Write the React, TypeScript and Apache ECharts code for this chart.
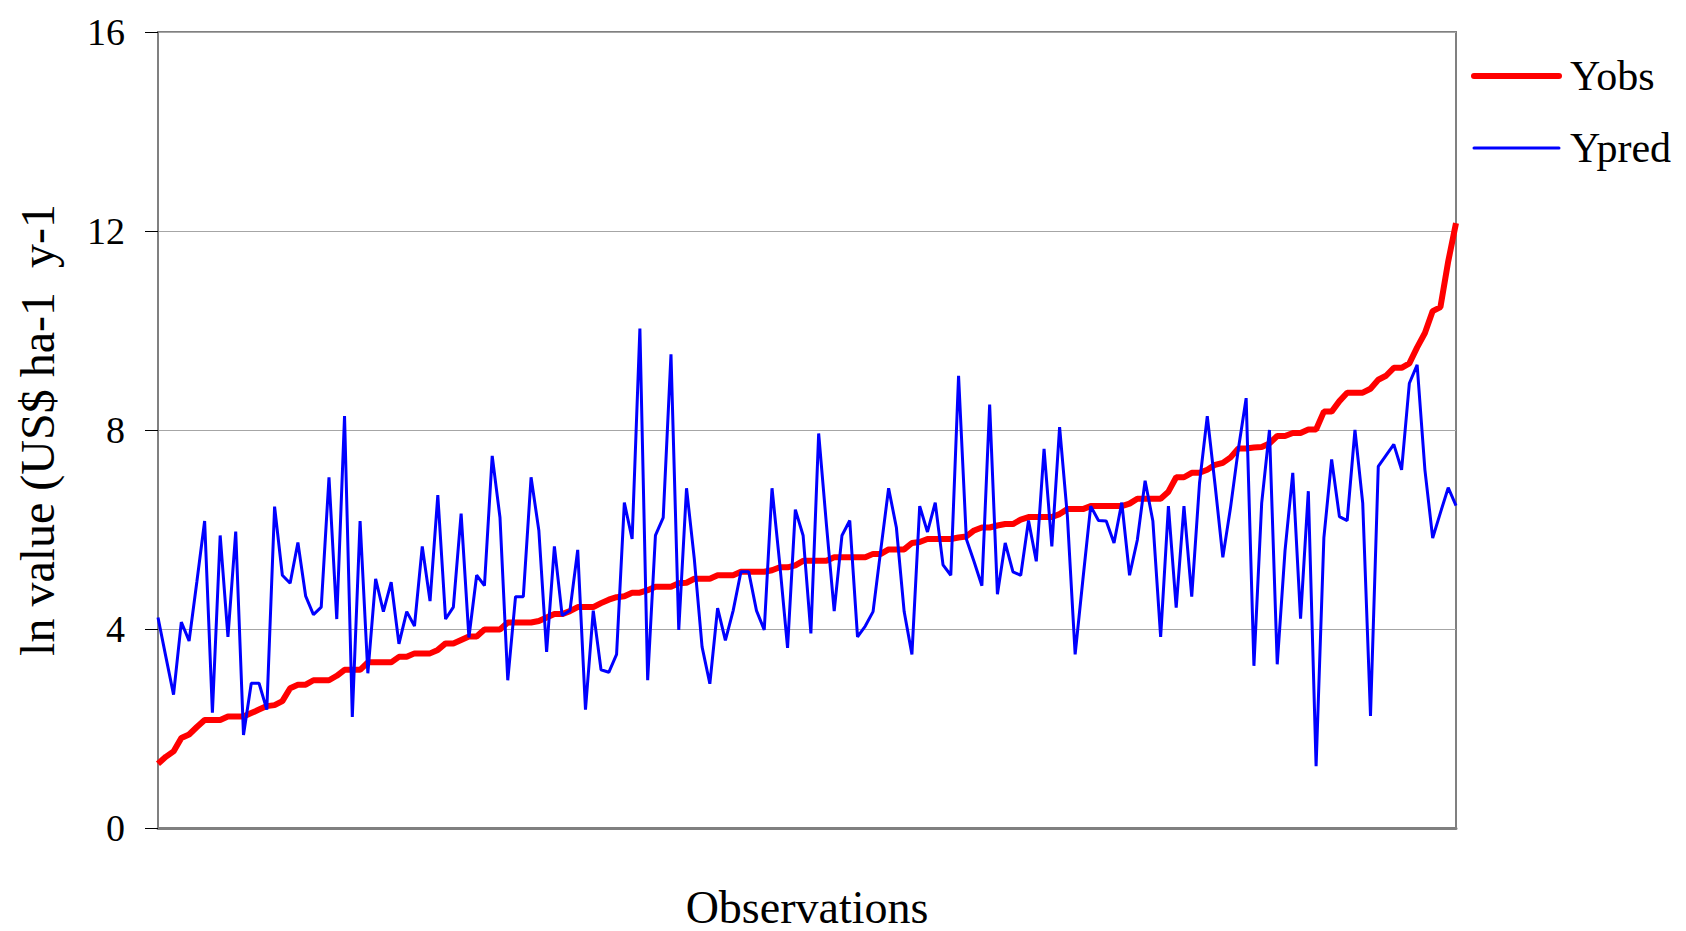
import React, { useEffect, useRef } from "react";
import * as echarts from "echarts";

const yObs: number[] = [
  1.29, 1.43, 1.54, 1.81, 1.88, 2.03, 2.17, 2.17, 2.17, 2.24,
  2.24, 2.24, 2.31, 2.38, 2.45, 2.47, 2.55, 2.81, 2.88, 2.88,
  2.97, 2.97, 2.97, 3.06, 3.18, 3.18, 3.18, 3.33, 3.33, 3.33,
  3.33, 3.44, 3.44, 3.51, 3.51, 3.51, 3.58, 3.71, 3.71, 3.78,
  3.85, 3.85, 3.99, 3.99, 3.99, 4.13, 4.13, 4.13, 4.13, 4.16,
  4.23, 4.30, 4.30, 4.36, 4.44, 4.44, 4.44, 4.52, 4.59, 4.64,
  4.66, 4.73, 4.73, 4.78, 4.85, 4.85, 4.85, 4.92, 4.93, 5.01,
  5.01, 5.01, 5.08, 5.08, 5.08, 5.15, 5.15, 5.15, 5.15, 5.18,
  5.24, 5.24, 5.28, 5.37, 5.37, 5.37, 5.37, 5.44, 5.44, 5.44,
  5.44, 5.44, 5.51, 5.51, 5.60, 5.60, 5.60, 5.73, 5.75, 5.81,
  5.81, 5.81, 5.81, 5.84, 5.86, 5.98, 6.04, 6.04, 6.08, 6.11,
  6.11, 6.20, 6.25, 6.25, 6.25, 6.25, 6.31, 6.41, 6.41, 6.41,
  6.47, 6.47, 6.47, 6.47, 6.47, 6.52, 6.62, 6.62, 6.62, 6.62,
  6.76, 7.05, 7.05, 7.14, 7.14, 7.20, 7.30, 7.34, 7.45, 7.63,
  7.63, 7.65, 7.66, 7.73, 7.88, 7.88, 7.94, 7.94, 8.01, 8.01,
  8.37, 8.37, 8.58, 8.75, 8.75, 8.75, 8.83, 9.01, 9.09, 9.25,
  9.25, 9.34, 9.66, 9.95, 10.39, 10.47, 11.39, 12.16,
];

const yPred: number[] = [
  4.23, 3.45, 2.68, 4.14, 3.76, 4.95, 6.17, 2.32, 5.88, 3.84,
  5.96, 1.87, 2.91, 2.91, 2.38, 6.46, 5.08, 4.92, 5.74, 4.66,
  4.29, 4.44, 7.05, 4.20, 8.28, 2.23, 6.17, 3.11, 5.01, 4.35,
  4.94, 3.70, 4.35, 4.06, 5.66, 4.56, 6.69, 4.20, 4.44, 6.32,
  3.83, 5.08, 4.87, 7.48, 6.24, 2.97, 4.65, 4.65, 7.05, 5.98,
  3.54, 5.66, 4.27, 4.37, 5.59, 2.38, 4.37, 3.18, 3.13, 3.49,
  6.54, 5.81, 10.04, 2.97, 5.88, 6.24, 9.52, 3.98, 6.83, 5.41,
  3.64, 2.90, 4.42, 3.77, 4.37, 5.15, 5.15, 4.37, 3.98, 6.83,
  5.30, 3.62, 6.40, 5.88, 3.91, 7.93, 6.10, 4.36, 5.88, 6.18,
  3.84, 4.06, 4.35, 5.60, 6.83, 6.04, 4.35, 3.49, 6.47, 5.95,
  6.54, 5.29, 5.08, 9.09, 5.81, 5.35, 4.87, 8.51, 4.70, 5.73,
  5.15, 5.08, 6.18, 5.36, 7.62, 5.66, 8.06, 6.27, 3.49, 5.00,
  6.47, 6.18, 6.17, 5.73, 6.54, 5.08, 5.79, 6.98, 6.17, 3.84,
  6.47, 4.43, 6.47, 4.65, 6.93, 8.28, 6.90, 5.44, 6.45, 7.62,
  8.64, 3.26, 6.53, 8.00, 3.29, 5.57, 7.14, 4.21, 6.77, 1.24,
  5.83, 7.41, 6.26, 6.18, 8.00, 6.53, 2.25, 7.27, 7.49, 7.71,
  7.20, 8.94, 9.31, 7.20, 5.83, 6.34, 6.84, 6.48,
];

const categories: string[] = yObs.map((_, i) => String(i + 1));

const seriesNames = ["Yobs", "Ypred"];
const yTicks = { min: 0, max: 16, interval: 4 };
const xTitle = "Observations";
const yTitle = "ln value (US$ ha-1  y-1";

const FONT = "'Liberation Serif', 'Times New Roman', serif";

export default function App() {
  const ref = useRef<HTMLDivElement>(null);

  useEffect(() => {
    if (!ref.current) return;
    const chart = echarts.init(ref.current, null, { renderer: "svg" });
    chart.setOption({
      animation: false,
      backgroundColor: "#ffffff",
      grid: {
        left: 158,
        right: 230,
        top: 32,
        bottom: 103,
        containLabel: false,
        outerBoundsMode: "none",
        show: true,
        borderColor: "#808080",
        borderWidth: 2,
        backgroundColor: "transparent",
      },
      legend: {
        orient: "vertical",
        left: 1471,
        top: 55,
        padding: 0,
        itemWidth: 85,
        itemHeight: 20,
        itemGap: 30,
        data: seriesNames,
        lineStyle: { width: "inherit", cap: "round" },
        itemStyle: { opacity: 0 },
        textStyle: {
          fontFamily: FONT,
          fontSize: 42,
          lineHeight: 42,
          color: "#000",
          padding: [0, 0, 0, 6],
        },
      },
      xAxis: {
        type: "category",
        data: categories,
        boundaryGap: false,
        name: xTitle,
        nameLocation: "middle",
        nameGap: 57,
        nameTextStyle: {
          fontFamily: FONT,
          fontSize: 46,
          lineHeight: 44,
          color: "#000",
        },
        axisLine: { show: true, lineStyle: { color: "#808080", width: 3 } },
        axisTick: { show: false },
        axisLabel: { show: false },
        splitLine: { show: false },
      },
      yAxis: {
        type: "value",
        min: yTicks.min,
        max: yTicks.max,
        interval: yTicks.interval,
        name: yTitle,
        nameLocation: "middle",
        nameGap: 97,
        nameTextStyle: { fontFamily: FONT, fontSize: 48, color: "#000" },
        axisLine: { show: true, lineStyle: { color: "#808080", width: 2 } },
        axisTick: {
          show: true,
          inside: false,
          length: 13,
          lineStyle: { color: "#000", width: 1 },
        },
        axisLabel: {
          fontFamily: FONT,
          fontSize: 38,
          color: "#000",
          margin: 33,
        },
        splitLine: { show: true, lineStyle: { color: "#a6a6a6", width: 1 } },
      },
      series: [
        {
          name: seriesNames[0],
          type: "line",
          data: yObs,
          symbol: "none",
          lineStyle: { color: "#ff0000", width: 6 },
          itemStyle: { color: "#ff0000" },
          z: 2,
        },
        {
          name: seriesNames[1],
          type: "line",
          data: yPred,
          symbol: "none",
          lineStyle: { color: "#0000ff", width: 3 },
          itemStyle: { color: "#0000ff" },
          z: 3,
        },
      ],
    });
    return () => chart.dispose();
  }, []);

  return (
    <div
      ref={ref}
      style={{
        position: "fixed",
        left: 0,
        top: 0,
        width: 1686,
        height: 931,
        background: "#fff",
      }}
    />
  );
}
